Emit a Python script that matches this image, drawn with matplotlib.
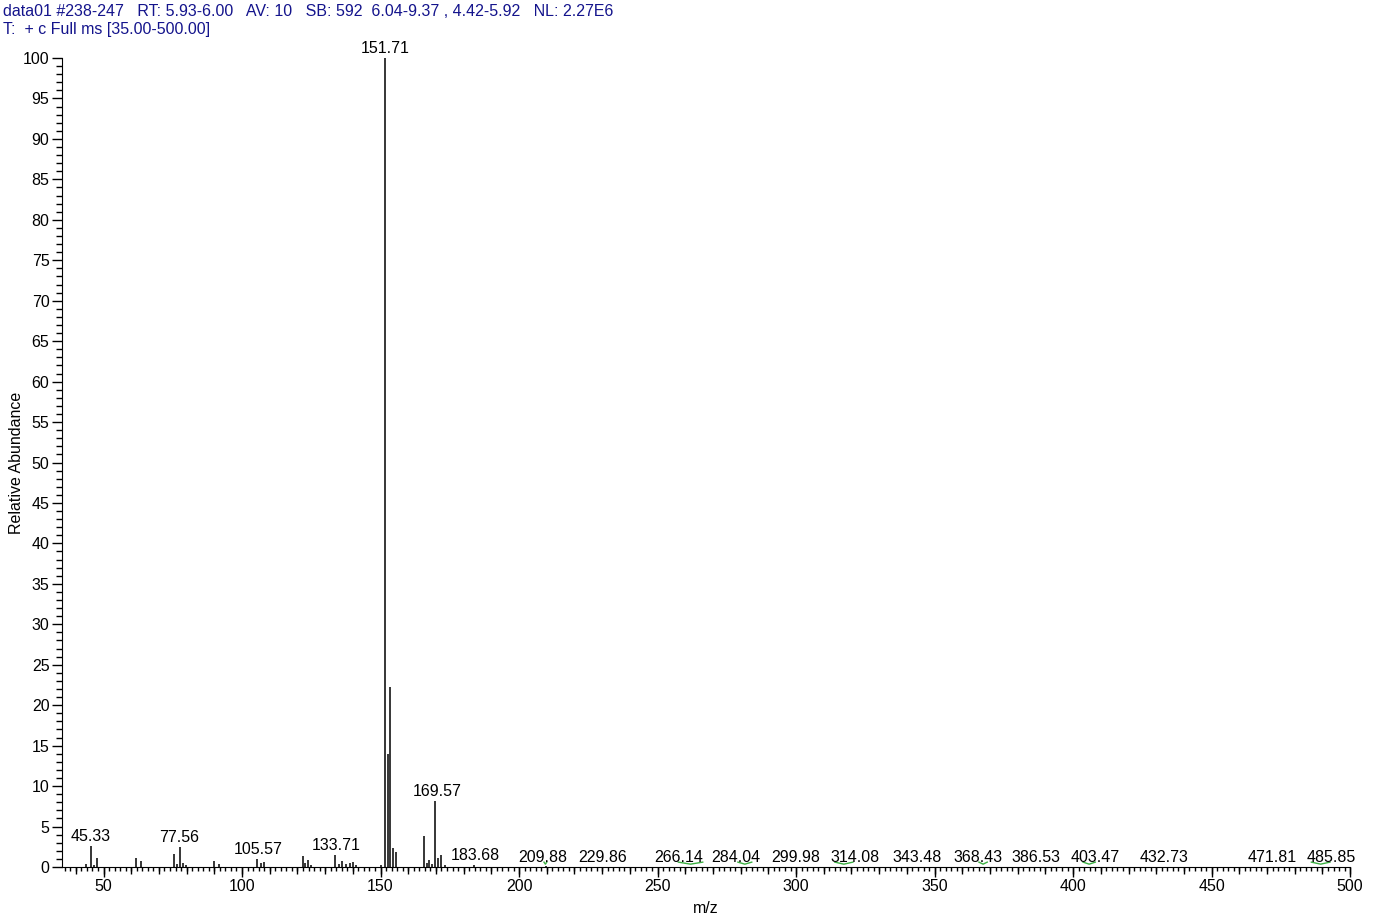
import matplotlib
matplotlib.use("Agg")
import matplotlib.pyplot as plt
from matplotlib.ticker import MultipleLocator, NullFormatter

plt.rcParams["font.family"] = ["Liberation Sans", "DejaVu Sans"]

# spectrum sticks (m/z, relative abundance)
mz = [43.5, 45.33, 46.5, 47.7, 61.8, 63.4, 75.6, 76.6, 77.56, 78.6, 79.9,
      89.8, 91.6, 105.57, 106.9, 108.1, 122.0, 122.8, 123.8, 125.0,
      133.71, 135.0, 136.0, 137.6, 138.9, 140.0, 141.2, 150.1,
      151.71, 152.8, 153.5, 154.6, 155.7, 165.8, 166.9, 167.6, 168.6,
      169.57, 170.6, 171.7, 173.2, 183.68, 209.88, 229.86]
abund = [0.4, 2.6, 0.3, 1.1, 1.1, 0.8, 1.6, 0.4, 2.5, 0.5, 0.3,
         0.7, 0.4, 1.0, 0.5, 0.6, 1.4, 0.5, 0.9, 0.3,
         1.5, 0.4, 0.75, 0.35, 0.5, 0.6, 0.2, 0.25,
         100.0, 14.0, 22.3, 2.4, 1.8, 3.8, 0.5, 0.9, 0.4,
         8.2, 1.1, 1.5, 0.3, 0.3, 0.1, 0.05]

# labelled peaks
label_mz = [45.33, 77.56, 105.57, 133.71, 151.71, 169.57, 183.68, 209.88,
            229.86, 266.14, 284.04, 299.98, 314.08, 343.48, 368.43, 386.53,
            403.47, 432.73, 471.81, 485.85]
label_y = [2.6, 2.5, 1.0, 1.5, 100.0, 8.2, 0.3, 0.1,
           0.1, 0.1, 0.1, 0.1, 0.1, 0.1, 0.1, 0.1,
           0.1, 0.1, 0.1, 0.1]
# where the label text is centred (shifted to avoid overlap, as in the instrument software)
label_x = [45.3, 77.4, 106.0, 134.1, 151.71, 170.3, 184.3, 208.5,
           230.2, 257.7, 278.2, 299.9, 321.2, 343.6, 365.6, 386.6,
           407.9, 432.8, 471.8, 493.1]

# small green traces under some labels (start, end)
green_start = [209.0, 257.5, 279.0, 314.0, 366.0, 403.6, 486.0]
green_end = [210.0, 266.3, 284.0, 320.5, 369.0, 408.0, 492.7]

header1 = "data01 #238-247   RT: 5.93-6.00   AV: 10   SB: 592  6.04-9.37 , 4.42-5.92   NL: 2.27E6"
header2 = "T:  + c Full ms [35.00-500.00]"

fig = plt.figure(figsize=(13.77, 9.24), dpi=100)
ax = fig.add_axes([0.045, 0.0617, 0.9355, 0.8755])

ax.vlines(mz, 0, abund, color="black", linewidth=1.1)
for a, b in zip(green_start, green_end):
    ax.plot([a, (a + b) / 2, b], [0.6, 0.35, 0.6], color="#3cb043", linewidth=1.0)

for x, y, tx in zip(label_mz, label_y, label_x):
    ax.annotate(f"{x:.2f}", (tx, y), xytext=(0, 1.2), textcoords="offset points",
                ha="center", va="bottom", fontsize=11.5, color="black",
                annotation_clip=False)

ax.set_xlim(35, 500)
ax.set_ylim(0, 100)
for s in ("top", "right"):
    ax.spines[s].set_visible(False)

ax.xaxis.set_major_locator(MultipleLocator(50))
ax.xaxis.set_minor_locator(MultipleLocator(2))
ax.yaxis.set_major_locator(MultipleLocator(5))
ax.yaxis.set_minor_locator(MultipleLocator(1))
ax.tick_params(axis="both", which="major", length=7, width=1, labelsize=11.5, pad=2)
ax.tick_params(axis="both", which="minor", length=3, width=1)
ax.tick_params(axis="y", which="minor", length=4)

# medium ticks every 10 on x
sec = ax.secondary_xaxis("bottom")
sec.xaxis.set_major_locator(MultipleLocator(10))
sec.xaxis.set_major_formatter(NullFormatter())
sec.tick_params(length=5, width=1)
sec.spines["bottom"].set_visible(False)

ax.set_xlabel("m/z", fontsize=11.5, labelpad=5)
ax.set_ylabel("Relative Abundance", fontsize=11.5, labelpad=-1)

fig.text(0.002, 0.988, header1, fontsize=11.5, color="#14148c", va="center", ha="left")
fig.text(0.002, 0.968, header2, fontsize=11.5, color="#14148c", va="center", ha="left")

fig.savefig("out.png", dpi=100)
